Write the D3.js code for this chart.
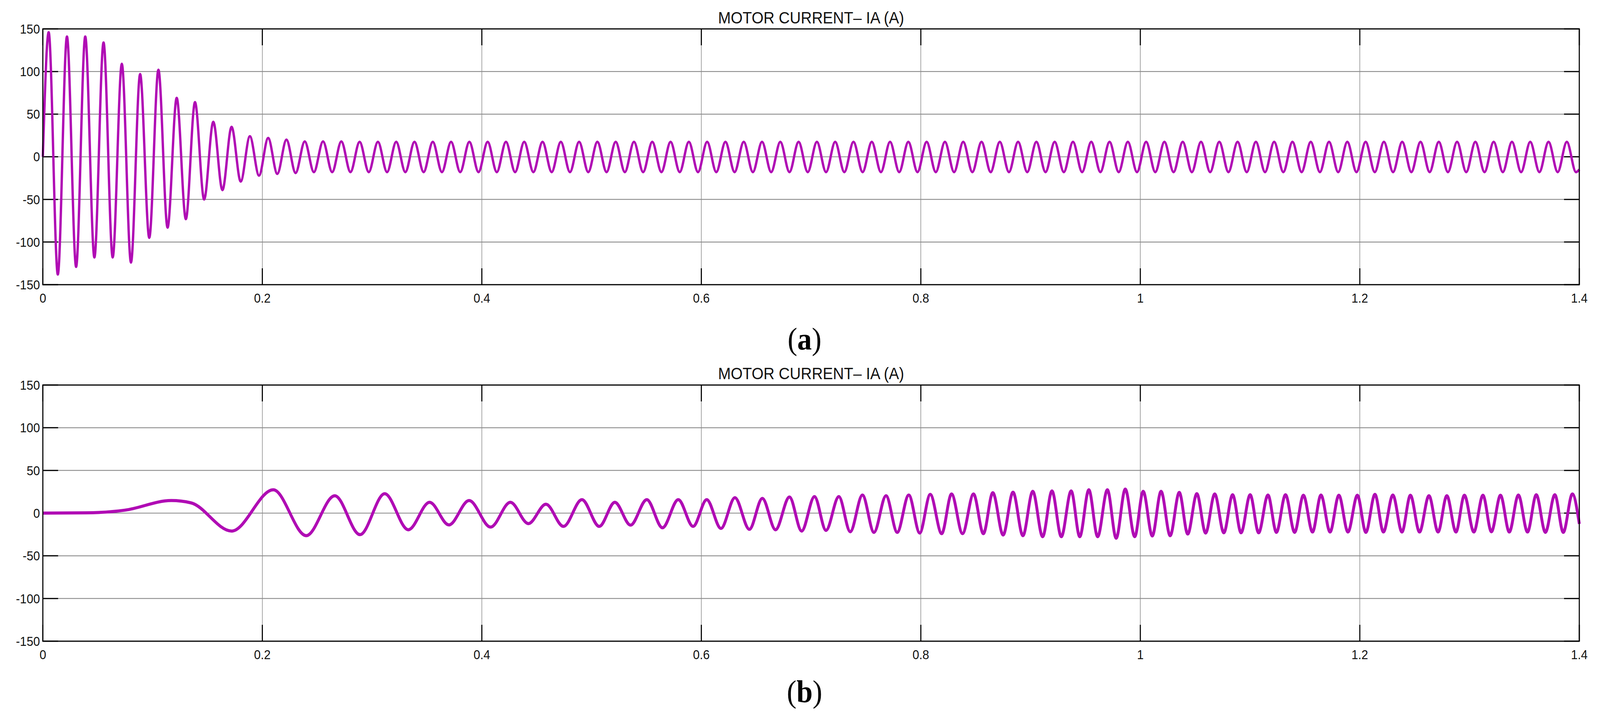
<!DOCTYPE html>
<html><head><meta charset="utf-8">
<script src="https://cdn.jsdelivr.net/npm/d3@7"></script>
<style>html,body{margin:0;padding:0;background:#fff;overflow:hidden}svg{display:block;width:100vw;height:100vh}</style>
</head><body>
<svg id="c" viewBox="0 0 4406 1831" preserveAspectRatio="none"></svg>
<script>
// ---- data ----
const title = "MOTOR CURRENT\u2013 IA (A)";
const xTicks = [0, 0.2, 0.4, 0.6, 0.8, 1, 1.2, 1.4];
const yTicks = [-150, -100, -50, 0, 50, 100, 150];
// Panel (a): successive positive peaks and negative troughs, 60 Hz cycles starting at t0
const topT0 = 0.0053, topPeriod = 1/60;
const topPeaks = [146,141,141,134,109,97,102,69,64,41,35,24,22,20,
  18,18,18,17.5,17.5,17.5,17.5,17.5,17.5,17.5,17.5,17.5,17.5,17.5,17.5,17.5,17.5,17.5,17.5,17.5,
  17.5,17.5,17.5,17.5,17.5,17.5,17.5,17.5,17.5,17.5,17.5,17.5,17.5,17.5,17.5,17.5,17.5,17.5,17.5,17.5,
  17.5,17.5,17.5,17.5,17.5,17.5,17.5,17.5,17.5,17.5,17.5,17.5,17.5,17.5,17.5,17.5,17.5,17.5,17.5,17.5,
  17.5,17.5,17.5,17.5,17.5,17.5,17.5,17.5,17.5,17.5];
const topTroughs = [-138,-129,-118,-118,-124,-95,-83,-73,-50,-39,-29,-22,-20,-19,
  -18,-18,-18,-18,-18,-18,-18,-18,-18,-18,-18,-18,-18,-18,-18,-18,-18,-18,-18,-18,
  -18,-18,-18,-18,-18,-18,-18,-18,-18,-18,-18,-18,-18,-18,-18,-18,-18,-18,-18,-18,
  -18,-18,-18,-18,-18,-18,-18,-18,-18,-18,-18,-18,-18,-18,-18,-18,-18,-18,-18,-18,
  -18,-18,-18,-18,-18,-18,-18,-18,-18,-18];
const topEnd = [1.4, -15];
// Panel (b): extrema times and values
const botT = [0,0.039,0.075,0.117,0.135,0.172,0.210,0.240,0.266,0.289,0.3115,0.333,0.3524,0.370,0.3884,0.408,0.426,0.4424,0.4584,0.4744,0.4912,0.507,0.5212,0.5355,0.5503,0.5646,0.579,0.5925,0.6049,0.6179,0.6306,0.6438,0.6556,0.6676,0.6803,0.6914,0.7031,0.7136,0.7253,0.7357,0.7468,0.7573,0.7683,0.7785,0.789,0.799,0.8086,0.819,0.828,0.838,0.848,0.857,0.8656,0.875,0.884,0.893,0.902,0.911,0.9195,0.928,0.937,0.9448,0.9531,0.9611,0.970,0.978,0.9863,0.9949,1.0026,1.0109,1.0189,1.0272,1.0355,1.0432,1.0515,1.0595,1.0678,1.0761,1.0841,1.0918,1.1001,1.1078,1.1163,1.124,1.1323,1.1406,1.1486,1.1569,1.1646,1.1729,1.1809,1.1892,1.1978,1.2055,1.2138,1.2215,1.2301,1.2384,1.2461,1.2544,1.263,1.2713,1.2793,1.2876,1.2953,1.3039,1.3122,1.3199,1.3282,1.3362,1.3445,1.3528,1.3608,1.3691,1.3777,1.3854,1.3937,1.4];
const botI = [0,0.3,3.5,14.7,12,-21,27.3,-26.4,20.4,-25.2,22.7,-19.5,12.7,-13.8,14.7,-16.4,12.7,-12.3,10.4,-15.6,15.8,-15.6,12.7,-14.1,15.8,-17.2,15.8,-15.6,15.8,-18,18.1,-19,17.3,-19.5,18.9,-21,19.3,-20.2,19.3,-21.8,21.2,-22.5,20.4,-22.5,21.2,-23.3,21.9,-24,22.4,-24,22.4,-24,23.9,-25.6,24.5,-26.4,25.5,-27.6,26,-27.6,26,-27.6,27.3,-27.6,27.3,-29.4,28.1,-27.6,25.5,-26.7,25.5,-26.4,24.2,-24.5,22.7,-23.3,22.4,-23,21.5,-23,21.5,-23,21.2,-22.5,21.5,-22.5,20.9,-22.1,21.2,-22.1,20.9,-22.1,20.9,-22.5,21.9,-22.1,21.2,-22.1,20.9,-22.1,20.4,-22.1,20.4,-22.1,20.9,-22.1,20.9,-21.8,20.9,-22.1,21.2,-22.1,21.5,-22.5,21.5,-22.5,22.4,-12.6];

// ---- build series ----
const topSeries = [[0,0]];
topPeaks.forEach((p,k)=>{
  topSeries.push([topT0 + k*topPeriod, p]);
  topSeries.push([topT0 + (k+0.5)*topPeriod, topTroughs[k]]);
});
topSeries.push(topEnd);
const botSeries = botT.map((t,i)=>[t, botI[i]]);

const svg = d3.select("#c");
const L = 118, R = 4349;
const panels = [
  {top:74, bottom:729, data:topSeries, sw:6.5, label:"a", labelY:895, titleY:60},
  {top:986, bottom:1642, data:botSeries, sw:8, label:"b", labelY:1798, titleY:971}
];
const color = "#b00cb4";
panels.forEach(p=>{
  const x = d3.scaleLinear().domain([0,1.4]).range([L,R]);
  const y = d3.scaleLinear().domain([-150,150]).range([p.bottom,p.top]);
  const g = svg.append("g");
  g.selectAll(".gx").data(xTicks.slice(1,-1)).join("line")
    .attr("x1",d=>x(d)).attr("x2",d=>x(d)).attr("y1",p.top).attr("y2",p.bottom)
    .attr("stroke","#8a8a8a").attr("stroke-width",1.6);
  g.selectAll(".gy").data(yTicks.slice(1,-1)).join("line")
    .attr("x1",L).attr("x2",R).attr("y1",d=>y(d)).attr("y2",d=>y(d))
    .attr("stroke","#8a8a8a").attr("stroke-width",2.2);
  const tl = 42;
  g.selectAll(".tyl").data(yTicks).join("line").attr("x1",L).attr("x2",L+tl)
    .attr("y1",d=>y(d)).attr("y2",d=>y(d)).attr("stroke","#000").attr("stroke-width",3);
  g.selectAll(".tyr").data(yTicks).join("line").attr("x1",R-tl).attr("x2",R)
    .attr("y1",d=>y(d)).attr("y2",d=>y(d)).attr("stroke","#000").attr("stroke-width",3);
  g.selectAll(".txb").data(xTicks).join("line").attr("x1",d=>x(d)).attr("x2",d=>x(d))
    .attr("y1",p.bottom).attr("y2",p.bottom-tl).attr("stroke","#000").attr("stroke-width",3);
  g.selectAll(".txt").data(xTicks).join("line").attr("x1",d=>x(d)).attr("x2",d=>x(d))
    .attr("y1",p.top).attr("y2",p.top+tl).attr("stroke","#000").attr("stroke-width",3);
  g.append("path").datum(p.data)
    .attr("d", d3.line().x(d=>x(d[0])).y(d=>y(d[1])).curve(d3.curveMonotoneX))
    .attr("fill","none").attr("stroke",color).attr("stroke-width",p.sw).attr("stroke-linejoin","round");
  g.append("rect").attr("x",L).attr("y",p.top).attr("width",R-L).attr("height",p.bottom-p.top)
    .attr("fill","none").attr("stroke","#000").attr("stroke-width",3);
  g.selectAll(".ly").data(yTicks).join("text").attr("x",L-8).attr("y",d=>y(d)+12)
    .attr("text-anchor","end").attr("font-family","Liberation Sans, Arial, sans-serif")
    .attr("font-size",33).attr("fill","#111").text(d=>d);
  g.selectAll(".lx").data(xTicks).join("text").attr("x",d=>x(d)).attr("y",p.bottom+46)
    .attr("text-anchor","middle").attr("font-family","Liberation Sans, Arial, sans-serif")
    .attr("font-size",33).attr("fill","#111").text(d=>d);
  g.append("text").attr("x",(L+R)/2).attr("y",p.titleY).attr("text-anchor","middle")
    .attr("font-family","Liberation Sans, Arial, sans-serif").attr("font-size",42).attr("fill","#111").text(title);
  const lt = g.append("text").attr("x",(L+R)/2-18).attr("y",p.labelY).attr("text-anchor","middle")
    .attr("font-family","Liberation Serif, Times New Roman, serif").attr("font-size",80);
  lt.append("tspan").text("(");
  lt.append("tspan").attr("font-weight","bold").text(p.label);
  lt.append("tspan").text(")");
});
</script>
</body></html>
